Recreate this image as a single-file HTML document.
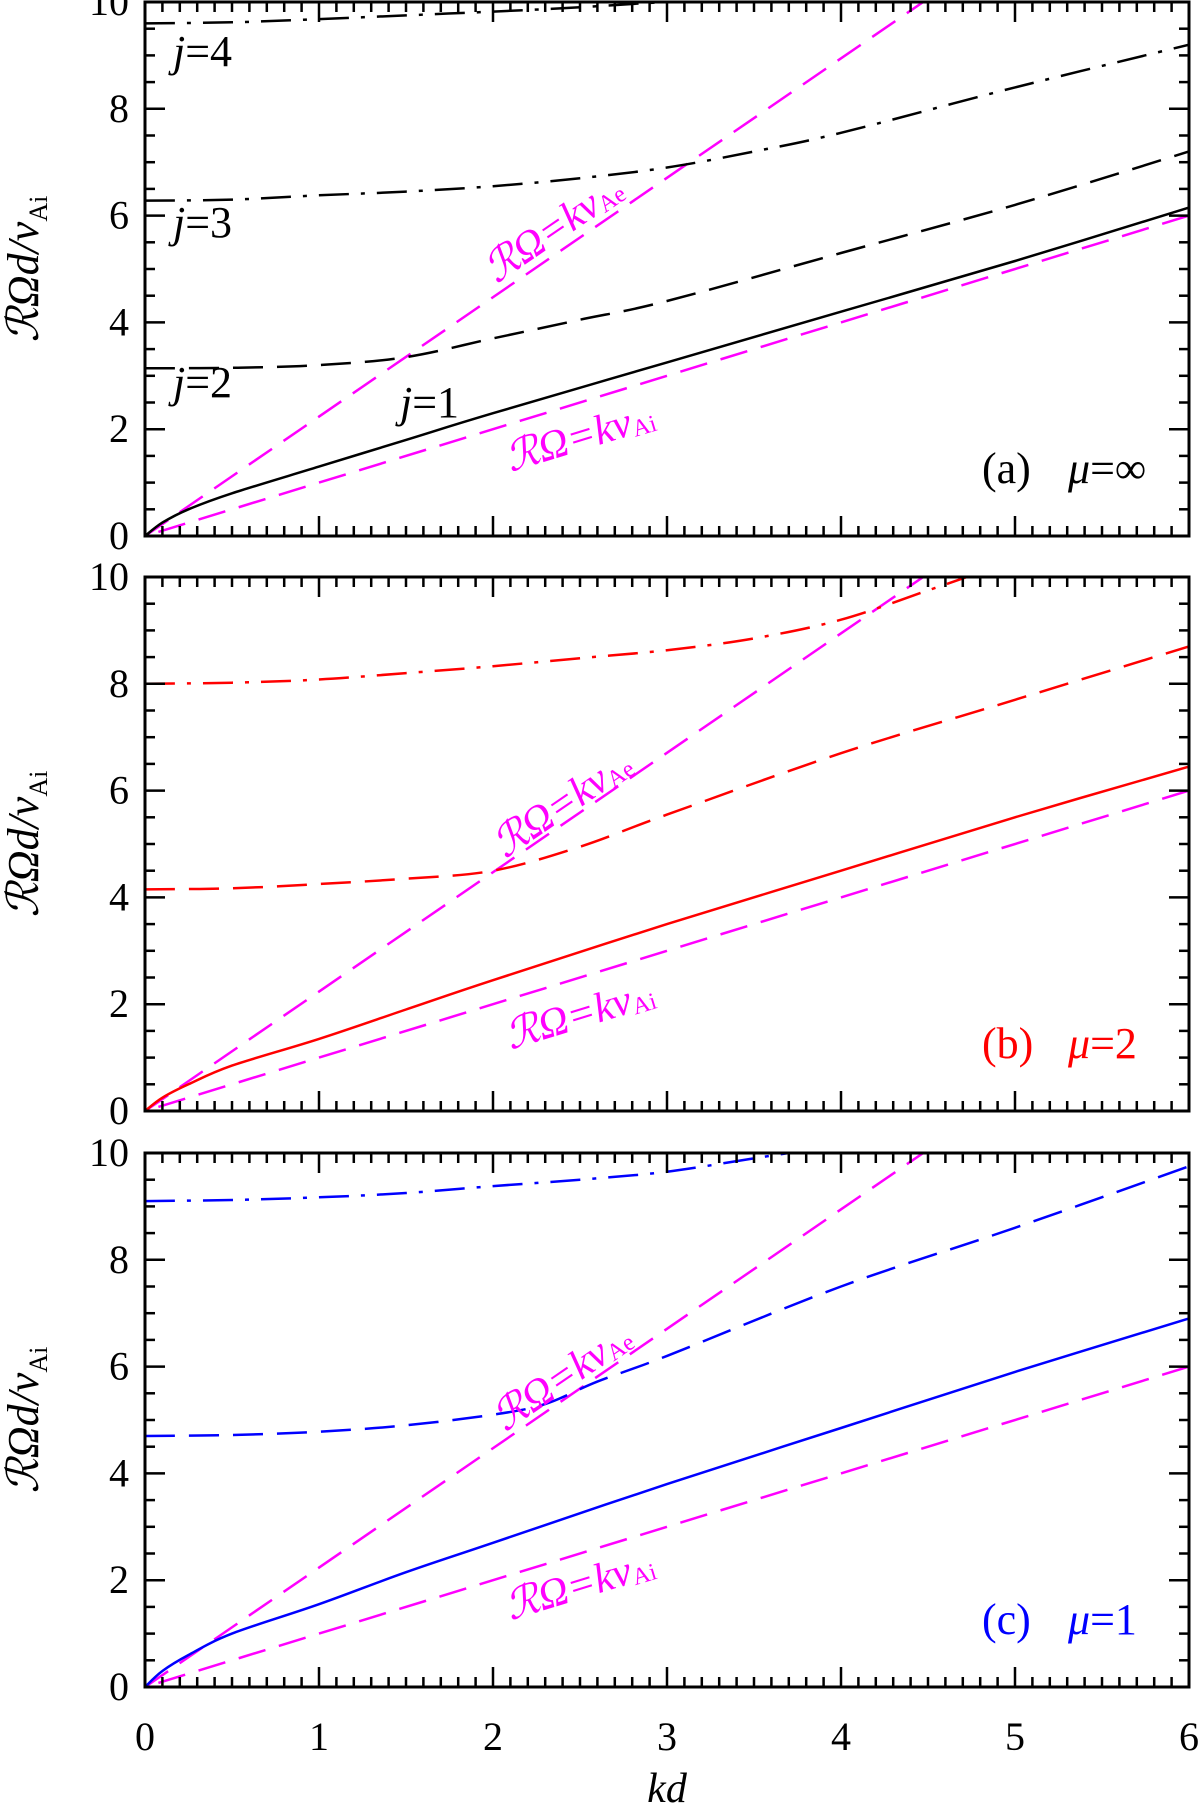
<!DOCTYPE html>
<html><head><meta charset="utf-8"><style>
html,body{margin:0;padding:0;background:#fff;}
svg{display:block;font-family:"Liberation Serif",serif;}
</style></head><body>
<svg id="fig" width="1200" height="1804" viewBox="0 0 1200 1804" xmlns="http://www.w3.org/2000/svg"></svg>
<script>
// ---- data ----
const xTicks = [0,1,2,3,4,5,6];
const yTicks = [0,2,4,6,8,10];
const vAeRatio = 2.236;   // slope of kv_Ae line
const vAiRatio = 1.0;     // slope of kv_Ai line
// panel a (mu = infinity)
const aJ1x = [0,0.1,0.25,0.5,1,1.5,2,3,4,5,6];
const aJ1y = [0,0.25,0.5,0.8,1.3,1.8,2.3,3.25,4.2,5.15,6.15];
const aJ2x = [0,0.5,1,1.5,2,2.5,3,4,5,6];
const aJ2y = [3.14,3.15,3.2,3.35,3.7,4.05,4.4,5.3,6.2,7.2];
const aJ3x = [0,0.5,1,1.5,2,2.5,3,3.5,4,5,6];
const aJ3y = [6.28,6.3,6.38,6.45,6.55,6.7,6.9,7.2,7.55,8.4,9.2];
const aJ4x = [0,0.5,1,1.5,2,2.5,3,3.5,3.8];
const aJ4y = [9.6,9.62,9.68,9.75,9.82,9.9,10.0,10.05,10.1];
// panel b (mu = 2)
const bJ1x = [0,0.1,0.25,0.5,1,1.5,2,3,4,5,6];
const bJ1y = [0,0.25,0.5,0.85,1.35,1.9,2.45,3.5,4.5,5.5,6.45];
const bJ2x = [0,0.5,1,1.5,2,2.5,3,4,5,6];
const bJ2y = [4.15,4.17,4.25,4.35,4.5,4.95,5.55,6.7,7.7,8.7];
const bJ3x = [0,0.5,1,1.5,2,2.5,3,3.5,4,4.5,4.9];
const bJ3y = [8.0,8.02,8.08,8.2,8.33,8.48,8.63,8.85,9.2,9.75,10.2];
// panel c (mu = 1)
const cJ1x = [0,0.1,0.25,0.5,1,1.5,2,3,4,5,6];
const cJ1y = [0,0.3,0.6,1.0,1.55,2.15,2.7,3.8,4.85,5.9,6.9];
const cJ2x = [0,0.5,1,1.5,2,2.3,2.6,3,4,5,6];
const cJ2y = [4.7,4.72,4.78,4.9,5.1,5.3,5.72,6.2,7.5,8.6,9.75];
const cJ3x = [0,0.5,1,1.5,2,2.5,3,3.5,3.8];
const cJ3y = [9.1,9.12,9.17,9.25,9.38,9.5,9.65,9.9,10.05];

const svg = document.getElementById('fig');
const NS = 'http://www.w3.org/2000/svg';
const X0 = 145, X1 = 1189;
const panels = [
  {top:2, bot:536, color:'#000', label:'(a)', mu:'∞', name:'panel-a',
   series:[[aJ1x,aJ1y,'solid'],[aJ2x,aJ2y,'dash'],[aJ3x,aJ3y,'dashdot'],[aJ4x,aJ4y,'dashdot']],
   aeLab:[2.35,5.75], aiLab:[2.5,1.85]},
  {top:577, bot:1111, color:'#f00', label:'(b)', mu:'2', name:'panel-b',
   series:[[bJ1x,bJ1y,'solid'],[bJ2x,bJ2y,'dash'],[bJ3x,bJ3y,'dashdot']],
   aeLab:[2.4,5.75], aiLab:[2.5,1.8]},
  {top:1153, bot:1687, color:'#00f', label:'(c)', mu:'1', name:'panel-c',
   series:[[cJ1x,cJ1y,'solid'],[cJ2x,cJ2y,'dash'],[cJ3x,cJ3y,'dashdot']],
   aeLab:[2.4,5.8], aiLab:[2.5,1.9]}
];
function el(tag, attrs, parent){
  const e = document.createElementNS(NS, tag);
  for (const k in attrs) e.setAttribute(k, attrs[k]);
  (parent||svg).appendChild(e);
  return e;
}
const xs = v => X0 + (X1 - X0) * v / 6;
function pathFrom(px, py){
  let d = 'M' + px[0].toFixed(1) + ',' + py[0].toFixed(1);
  for (let i = 0; i < px.length - 1; i++){
    const p0x = px[Math.max(i-1,0)], p0y = py[Math.max(i-1,0)];
    const p3x = px[Math.min(i+2,px.length-1)], p3y = py[Math.min(i+2,px.length-1)];
    const c1x = px[i] + (px[i+1]-p0x)/6, c1y = py[i] + (py[i+1]-p0y)/6;
    const c2x = px[i+1] - (p3x-px[i])/6, c2y = py[i+1] - (p3y-py[i])/6;
    d += ' C' + c1x.toFixed(1)+','+c1y.toFixed(1)+' '+c2x.toFixed(1)+','+c2y.toFixed(1)+' '+px[i+1].toFixed(1)+','+py[i+1].toFixed(1);
  }
  return d;
}
const dashes = {solid:'none', dash:'30 14', dashdot:'30 12 4 12'};
panels.forEach((p, pi) => {
  const ys = v => p.bot - (p.bot - p.top) * v / 10;
  const g = el('g', {});
  
  
  const cid = 'clip' + pi;
  const cp = el('clipPath', {id: cid}, g);
  el('rect', {x: X0, y: p.top, width: X1 - X0, height: p.bot - p.top}, cp);
  const plot = el('g', {'clip-path': 'url(#' + cid + ')'}, g);
  const ae = el('line', {x1: xs(0), y1: ys(0), x2: xs(6), y2: ys(6*vAeRatio), stroke:'#f0f', 'stroke-width':2.5, 'stroke-dasharray':'28 14'}, plot);
  
  
  const ai = el('line', {x1: xs(0), y1: ys(0), x2: xs(6), y2: ys(6*vAiRatio), stroke:'#f0f', 'stroke-width':2.5, 'stroke-dasharray':'28 14', 'stroke-dashoffset':'-14'}, plot);
  
  
  p.series.forEach((s, si) => {
    const px = s[0].map(xs), py = s[1].map(ys);
    const path = el('path', {d: pathFrom(px, py), fill:'none', stroke: p.color, 'stroke-width':2.5, 'stroke-dasharray': dashes[s[2]]}, plot);
    
    
  });
  const fr = el('rect', {x: X0, y: p.top, width: X1 - X0, height: p.bot - p.top, fill:'none', stroke:'#000', 'stroke-width':3}, g);
  
  
  for (let i = 0; i <= 60; i++){
    const v = i/10, major = i % 10 === 0, L = major ? 20 : 10, x = xs(v);
    el('line', {x1:x, y1:p.bot, x2:x, y2:p.bot-L, stroke:'#000', 'stroke-width':2.5}, g);
    el('line', {x1:x, y1:p.top, x2:x, y2:p.top+L, stroke:'#000', 'stroke-width':2.5}, g);
  }
  for (let i = 0; i <= 20; i++){
    const v = i/2, major = i % 4 === 0, L = major ? 20 : 10, y = ys(v);
    el('line', {x1:X0, y1:y, x2:X0+L, y2:y, stroke:'#000', 'stroke-width':2.5}, g);
    el('line', {x1:X1, y1:y, x2:X1-L, y2:y, stroke:'#000', 'stroke-width':2.5}, g);
  }
  yTicks.forEach(v => {
    const t = el('text', {x: 129, y: ys(v) + 13, 'text-anchor':'end', 'font-size':40, fill:'#000'}, g);
    t.textContent = v;
    
    
  });
  const yt = el('text', {transform:'translate(38,' + ((p.top+p.bot)/2) + ') rotate(-90)', 'text-anchor':'middle', 'font-size':44, 'font-style':'italic', fill:'#000'}, g);
  yt.innerHTML = 'ℛΩ<tspan>d</tspan>/<tspan>v</tspan><tspan font-size="26" font-style="normal" dy="9">Ai</tspan>';
  
  
  const angAe = -Math.atan(vAeRatio * (p.bot-p.top)/10 / ((X1-X0)/6)) * 180/Math.PI;
  const angAi = -Math.atan(vAiRatio * (p.bot-p.top)/10 / ((X1-X0)/6)) * 180/Math.PI;
  const la = el('text', {transform:'translate(' + xs(p.aeLab[0]) + ',' + ys(p.aeLab[1]) + ') rotate(' + angAe + ')', 'text-anchor':'middle', 'dominant-baseline':'central', 'font-size':42, fill:'#f0f', 'font-style':'italic'}, g);
  la.innerHTML = 'ℛΩ=kv<tspan font-size="24" font-style="normal" dy="9">Ae</tspan>';
  
  
  const lb = el('text', {transform:'translate(' + xs(p.aiLab[0]) + ',' + ys(p.aiLab[1]) + ') rotate(' + angAi + ')', 'text-anchor':'middle', 'dominant-baseline':'central', 'font-size':42, fill:'#f0f', 'font-style':'italic'}, g);
  lb.innerHTML = 'ℛΩ=kv<tspan font-size="24" font-style="normal" dy="9">Ai</tspan>';
  
  
  const pl = el('text', {x: 982, y: p.bot - 53, 'font-size':44, fill: p.color}, g);
  pl.innerHTML = p.label + '<tspan x="1068" font-style="italic">μ</tspan>=' + p.mu;
  
  
});
const jLabels = [['j=4',173,66],['j=3',173,237],['j=2',173,397],['j=1',400,417]];
jLabels.forEach(j => {
  const t = el('text', {x:j[1], y:j[2], 'font-size':44, fill:'#000'});
  t.innerHTML = '<tspan font-style="italic">j</tspan>=' + j[0].slice(2);
  
  
});
xTicks.forEach(v => {
  const t = el('text', {x: xs(v), y: 1750, 'text-anchor':'middle', 'font-size':40, fill:'#000'});
  t.textContent = v;
  
  
});
const xt = el('text', {x: 667, y: 1802, 'text-anchor':'middle', 'font-size':42, 'font-style':'italic', fill:'#000'});
xt.textContent = 'kd';


</script>
</body></html>
